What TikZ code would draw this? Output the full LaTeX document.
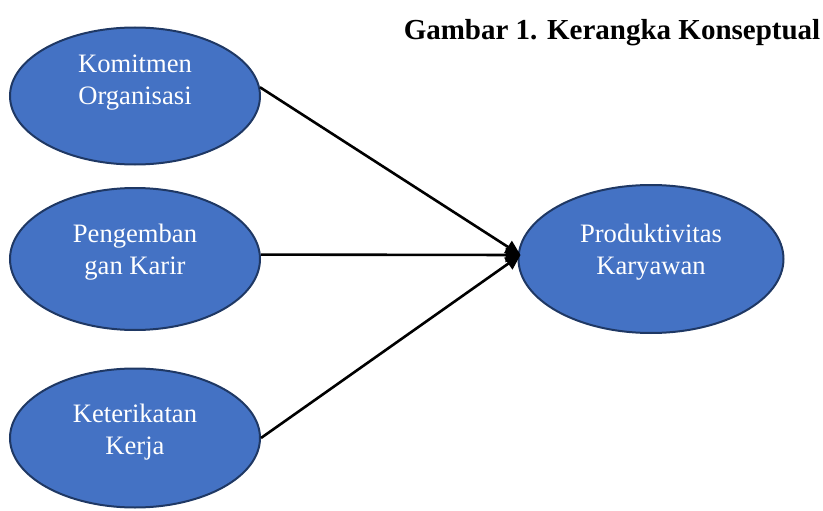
\documentclass[tikz,border=0pt]{standalone}
\usepackage{fontspec}
\setmainfont{Liberation Serif}
\usetikzlibrary{shapes.geometric,arrows.meta}
\definecolor{fillblue}{HTML}{4472C4}
\definecolor{edgeblue}{HTML}{1F3864}
\tikzset{
  varbox/.style={ellipse, draw=edgeblue, line width=2pt, fill=fillblue, inner sep=0pt},
  vartext/.style={text=white, align=center, font=\fontsize{26.6}{32}\selectfont, inner sep=0pt},
  link/.style={line width=2.6pt, -{Triangle[length=15pt,width=14pt]}}
}
\begin{document}
\begin{tikzpicture}[x=1pt,y=-1pt]
\useasboundingbox (0,0) rectangle (823,511);
\node[varbox, minimum width=250pt, minimum height=137pt] (k) at (135,96) {};
\node[varbox, minimum width=250pt, minimum height=142pt] (g) at (135,259) {};
\node[varbox, minimum width=250pt, minimum height=139pt] (e) at (135,438) {};
\node[varbox, minimum width=265pt, minimum height=148pt] (p) at (651,259) {};
\node[vartext] (kt) at (135,83) {Komitmen\\Organisasi};
\node[vartext] (gt) at (135,252) {Pengemban\\gan Karir};
\node[vartext] (et) at (135,432) {Keterikatan\\Kerja};
\node[vartext] (pt) at (651,252) {Produktivitas\\Karyawan};
\node[font=\fontsize{29}{35}\selectfont\bfseries, anchor=base, inner sep=0pt] (title) at (612,40) {Gambar 1. Kerangka Konseptual};
\coordinate (tip) at ([xshift=3pt,yshift=4pt]p.west);
\draw[link] (k.4) -- (tip);
\draw[link] (g.2) -- (tip);
\draw[link] (e.east) -- (tip);
\end{tikzpicture}
\end{document}
